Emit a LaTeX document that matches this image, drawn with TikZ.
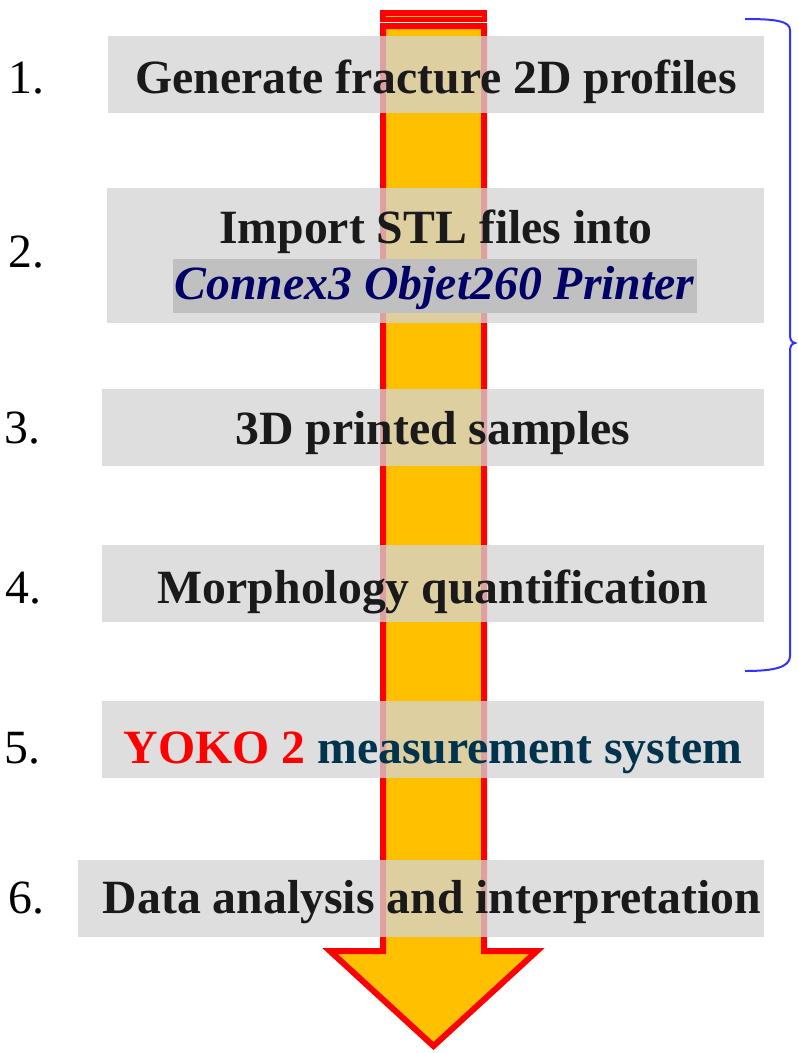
\documentclass[tikz,border=0pt]{standalone}
\usepackage{fontspec}
\setmainfont{Liberation Serif}
\usepackage{xcolor}
\usepackage{tikz}
\usetikzlibrary{fit, calc}

\definecolor{arrowfill}{RGB}{255,192,0}
\definecolor{arrowedge}{RGB}{255,0,0}
\definecolor{boxgray}{RGB}{212,212,212}
\definecolor{hilitegray}{RGB}{192,192,192}
\definecolor{inkblack}{RGB}{26,26,26}
\definecolor{printernavy}{RGB}{0,0,102}
\definecolor{yokored}{RGB}{255,0,0}
\definecolor{systemteal}{RGB}{0,51,77}
\definecolor{braceblue}{RGB}{51,51,255}

\begin{document}
\begin{tikzpicture}[
  x=0.75pt, y=-0.75pt,
  stepbox/.style={fill=boxgray, fill opacity=0.76, draw=none, inner sep=0pt},
  hilite/.style={fill=hilitegray, draw=none, inner sep=0pt},
  steptext/.style={inner sep=0pt, anchor=base, text=inkblack,
    font=\fontsize{35.8pt}{40pt}\selectfont\bfseries},
  numlabel/.style={inner sep=0pt, anchor=base west, text=black,
    font=\fontsize{35.8pt}{40pt}\selectfont},
  flowarrow/.style={fill=arrowfill, draw=arrowedge, line width=4.5pt, miter limit=10},
  bracket/.style={draw=braceblue, line width=1.5pt},
]
  \useasboundingbox (0,0) rectangle (797,1053);

  % the big arrow behind the steps
  \fill[arrowedge] (380,10) rectangle (487,22);
  \draw[arrowfill, line width=0.75pt] (386,16) -- (482,16);
  \draw[flowarrow] (383,26) -- (484,26) -- (484,951) -- (537,951)
    -- (433.5,1046) -- (330,951) -- (383,951) -- cycle;

  % step boxes
  \node (box1) [stepbox, fit={(108,36) (764,113)}] {};
  \node (box2) [stepbox, fit={(107,188) (764,323)}] {};
  \node (box3) [stepbox, fit={(102,389) (764,466)}] {};
  \node (box4) [stepbox, fit={(102,545) (764,622)}] {};
  \node (box5) [stepbox, fit={(102,701) (764,778)}] {};
  \node (box6) [stepbox, fit={(78,860) (764,937)}] {};
  \node (hl) [hilite, fit={(173,259) (697,313)}] {};

  % step texts
  \node (t1) [steptext] at (436,93) {Generate fracture 2D profiles};
  \node (t2) [steptext] at (436,243) {Import STL files into};
  \node (t2b) [steptext, text=printernavy] at (434.5,299) {\itshape Connex3 Objet260 Printer};
  \node (t3) [steptext] at (433,444) {3D printed samples};
  \node (t4) [steptext] at (433,603) {Morphology quantification};
  \node (t5) [steptext] at (433,763)
    {\textcolor{yokored}{YOKO 2} \textcolor{systemteal}{measurement system}};
  \node (t6) [steptext] at (432,913) {Data analysis and interpretation};

  % numbers
  \node (n1) [numlabel] at (8,93) {1.};
  \node (n2) [numlabel] at (8,267) {2.};
  \node (n3) [numlabel] at (4,443) {3.};
  \node (n4) [numlabel] at (5,603) {4.};
  \node (n5) [numlabel] at (4,763) {5.};
  \node (n6) [numlabel] at (8,913) {6.};

  % brace over steps 1-4
  \draw[bracket] (745,19) .. controls (775,19) and (790,21) .. (790,30)
    -- (790,333) .. controls (790,340) and (791,342) .. (795,343)
    .. controls (791,344) and (790,346) .. (790,353)
    -- (790,656) .. controls (790,667) and (775,671) .. (745,671);
\end{tikzpicture}
\end{document}
